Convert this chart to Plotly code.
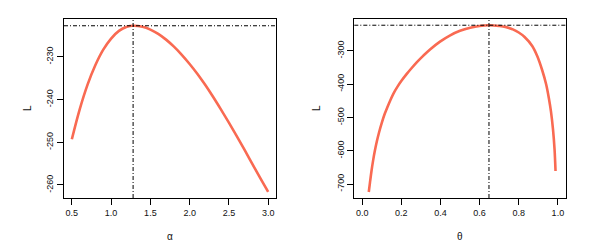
import plotly.graph_objects as go

# ---- data ----
alpha = [0.50, 0.60, 0.70, 0.80, 0.90, 1.00, 1.10, 1.20, 1.28, 1.40, 1.50,
         1.60, 1.70, 1.80, 1.90, 2.00, 2.10, 2.20, 2.30, 2.40, 2.50, 2.60,
         2.70, 2.80, 2.90, 3.00]
L_alpha = [-249.3, -242.3, -236.5, -231.9, -228.3, -225.7, -223.9, -222.95,
           -222.7, -222.95, -223.6, -224.6, -225.95, -227.6, -229.5, -231.65,
           -234.0, -236.6, -239.4, -242.35, -245.4, -248.55, -251.8, -255.1,
           -258.4, -261.6]

theta = [0.034, 0.040, 0.048, 0.056, 0.065, 0.075, 0.087, 0.100, 0.116, 0.130,
         0.142, 0.160, 0.180, 0.200, 0.228, 0.250, 0.280, 0.313, 0.347, 0.398,
         0.450, 0.500, 0.552, 0.600, 0.648, 0.700, 0.732, 0.770, 0.800, 0.830,
         0.869, 0.895, 0.920, 0.940, 0.954, 0.965, 0.975, 0.983, 0.988]
L_theta = [-724, -696, -660, -629.6, -600.3, -572.3, -543.5, -516.7, -488.2, -467.5,
           -451, -428, -408, -390.5, -369, -353.5, -333.5, -314, -295.5, -272,
           -253, -239.5, -230.2, -224.8, -222.7, -224.8, -227.7, -235.3, -244.6, -258,
           -285, -316, -358, -400, -442, -483, -535, -595, -661]

alpha_hat = 1.28
theta_hat = 0.648
L_max = -222.7

x1_ticks = [0.5, 1.0, 1.5, 2.0, 2.5, 3.0]
x1_labels = ["0.5", "1.0", "1.5", "2.0", "2.5", "3.0"]
y1_ticks = [-260, -250, -240, -230]
y1_labels = ["-260", "-250", "-240", "-230"]
x2_ticks = [0.0, 0.2, 0.4, 0.6, 0.8, 1.0]
x2_labels = ["0.0", "0.2", "0.4", "0.6", "0.8", "1.0"]
y2_ticks = [-700, -600, -500, -400, -300]
y2_labels = ["-700", "-600", "-500", "-400", "-300"]

W, H = 607, 245
CURVE = "#F96A52"
FONT = dict(family="Liberation Sans, Arial, sans-serif", size=9, color="#111111")

fig = go.Figure()
fig.add_trace(go.Scatter(x=alpha, y=L_alpha, mode="lines",
                         line=dict(color=CURVE, width=2.6, shape="spline", smoothing=1.0),
                         xaxis="x", yaxis="y", showlegend=False, hoverinfo="skip"))
fig.add_trace(go.Scatter(x=theta, y=L_theta, mode="lines",
                         line=dict(color=CURVE, width=2.6, shape="spline", smoothing=1.0),
                         xaxis="x2", yaxis="y2", showlegend=False, hoverinfo="skip"))

ydom = [1 - 198 / H, 1 - 18.5 / H]
axcommon = dict(showgrid=False, zeroline=False, showline=True, mirror=True, linecolor="black", linewidth=1,
                ticks="outside", ticklen=6, tickwidth=1, tickcolor="black", tickfont=FONT)

fig.update_layout(
    width=W, height=H, margin=dict(l=0, r=0, t=0, b=0),
    paper_bgcolor="white", plot_bgcolor="white",
    xaxis=dict(domain=[64 / W, 276 / W], range=[0.4, 3.1], tickvals=x1_ticks, ticktext=x1_labels,
               anchor="y", **axcommon),
    yaxis=dict(domain=ydom, range=[-263.05, -221.0], tickvals=y1_ticks, ticktext=y1_labels,
               tickangle=-90, anchor="x", **axcommon),
    xaxis2=dict(domain=[354.3 / W, 565.7 / W], range=[-0.04, 1.04], tickvals=x2_ticks, ticktext=x2_labels,
                anchor="y2", **axcommon),
    yaxis2=dict(domain=ydom, range=[-742, -202.5], tickvals=y2_ticks, ticktext=y2_labels,
                tickangle=-90, anchor="x2", **axcommon),
)

dash = dict(color="black", width=1, dash="4px,2px,1px,2px")
fig.add_shape(type="line", xref="x domain", yref="y", x0=0, x1=1, y0=L_max, y1=L_max, line=dash)
fig.add_shape(type="line", xref="x", yref="y domain", x0=alpha_hat, x1=alpha_hat, y0=0, y1=1, line=dash)
fig.add_shape(type="line", xref="x2 domain", yref="y2", x0=0, x1=1, y0=L_max, y1=L_max, line=dash)
fig.add_shape(type="line", xref="x2", yref="y2 domain", x0=theta_hat, x1=theta_hat, y0=0, y1=1, line=dash)

ann_font = dict(family="Liberation Sans, Arial, sans-serif", size=10, color="#111111")
fig.add_annotation(text="α", x=170 / W, y=1 - 236 / H, xref="paper", yref="paper", showarrow=False,
                   font=ann_font, xanchor="center", yanchor="middle")
fig.add_annotation(text="θ", x=460 / W, y=1 - 236 / H, xref="paper", yref="paper", showarrow=False,
                   font=ann_font, xanchor="center", yanchor="middle")
fig.add_annotation(text="L", x=28 / W, y=1 - 108 / H, xref="paper", yref="paper", showarrow=False,
                   font=ann_font, textangle=-90, xanchor="center", yanchor="middle")
fig.add_annotation(text="L", x=317 / W, y=1 - 108 / H, xref="paper", yref="paper", showarrow=False,
                   font=ann_font, textangle=-90, xanchor="center", yanchor="middle")

fig.write_html("out.html", config={"displayModeBar": False},
               post_script="document.body.style.margin='0px';document.body.style.overflow='hidden';")
